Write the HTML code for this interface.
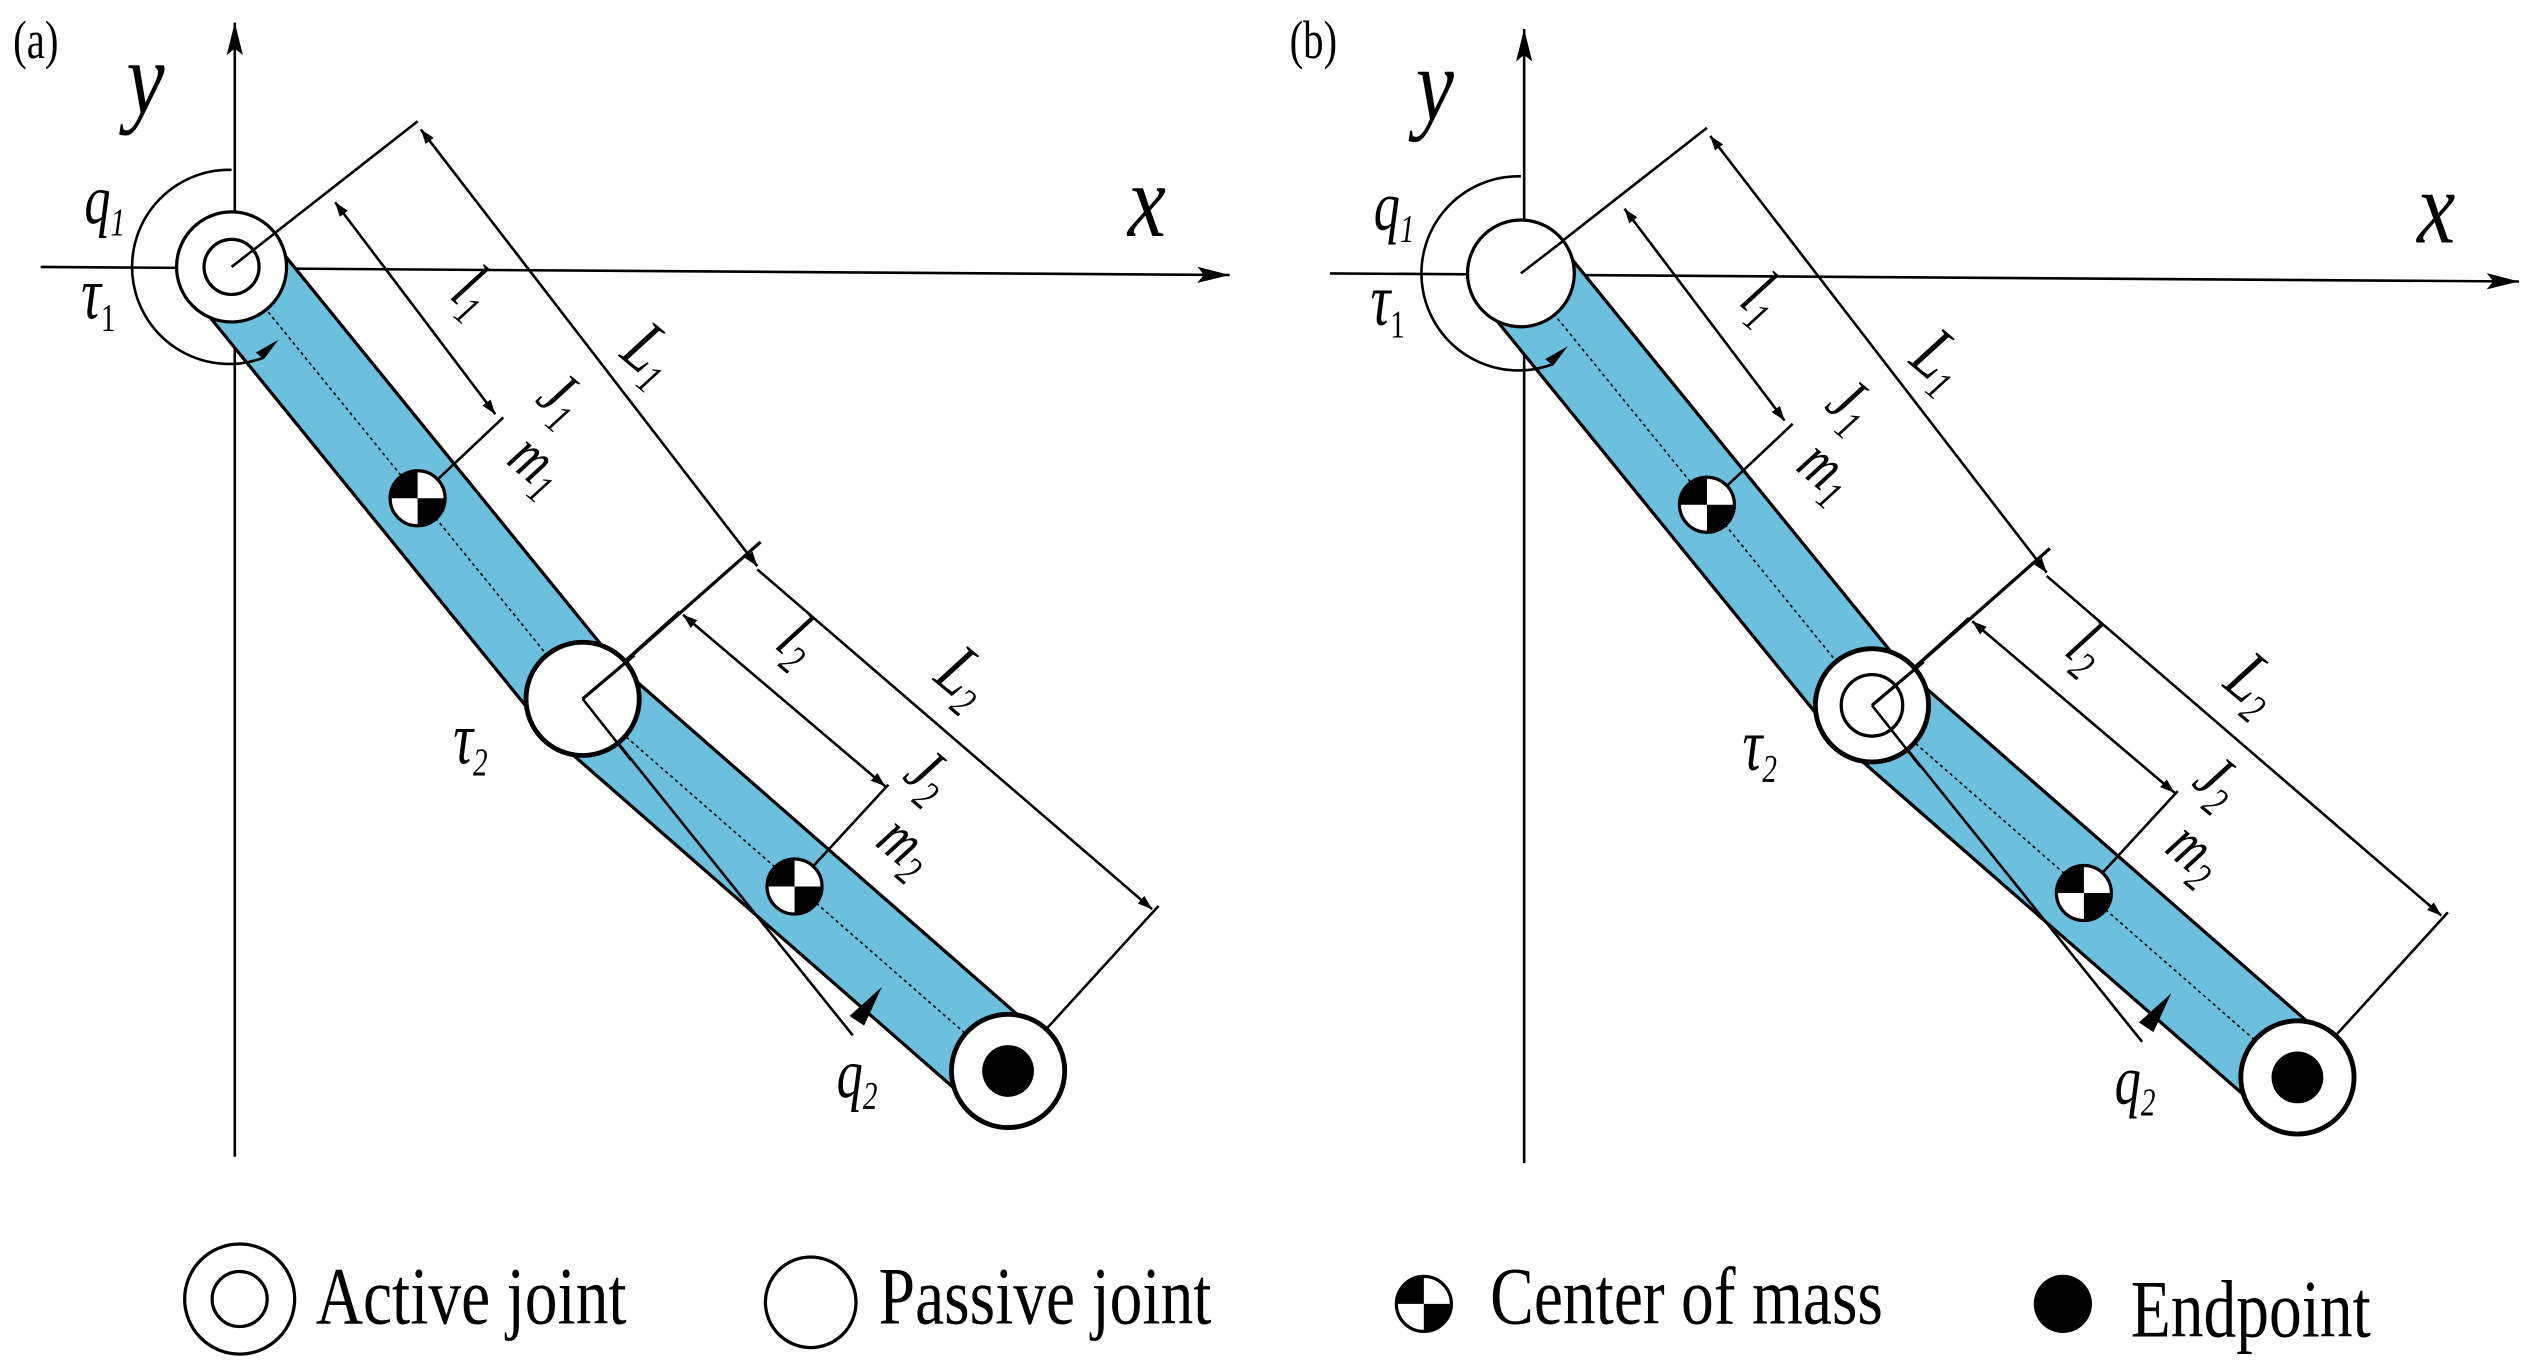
<!DOCTYPE html>
<html><head><meta charset="utf-8"><style>
html,body{margin:0;padding:0;background:#fff;}
svg{display:block;}
text{font-family:"Liberation Serif",serif;fill:#000;}
.it{font-style:italic;}
</style></head><body>
<svg width="2529" height="1367" viewBox="0 0 1563 845" xmlns="http://www.w3.org/2000/svg">
<defs>
<marker id="ar" viewBox="0 0 10 10" refX="10" refY="5" markerWidth="9" markerHeight="9" orient="auto-start-reverse" markerUnits="userSpaceOnUse"><path d="M0,1.5 L10,5 L0,8.5 z" fill="#000"/></marker>
<marker id="ax" viewBox="0 0 20 10" refX="20" refY="5" markerWidth="20" markerHeight="10" orient="auto" markerUnits="userSpaceOnUse"><path d="M0,0 L20,5 L0,10 L4,5 z" fill="#000"/></marker>
</defs>

<text transform="translate(8,36) scale(0.9,1.2)" font-size="28">(a)</text>
<text transform="translate(797,36) scale(0.9,1.2)" font-size="28">(b)</text>

<!-- PANEL A -->
<g>
<line x1="145" y1="715" x2="145" y2="14" stroke="#000" stroke-width="1.6" marker-end="url(#ax)"/>
<line x1="25" y1="165" x2="760" y2="170" stroke="#000" stroke-width="1.6" marker-end="url(#ax)"/>
<polyline points="143,165 360,432 623,662" fill="none" stroke="#000" stroke-width="62" stroke-linejoin="miter"/>
<polyline points="143,165 360,432 623,662" fill="none" stroke="#6cbfdd" stroke-width="58" stroke-linejoin="miter"/>
<polyline points="143,165 360,432 623,662" fill="none" stroke="#000" stroke-width="1" stroke-dasharray="2,2"/>
<path d="M143,105 A60,60 0 1 0 163,221" fill="none" stroke="#000" stroke-width="1.6"/>
<path d="M158,218 L172,210 L163,222 z" fill="#000"/>
<line x1="143" y1="165" x2="258" y2="75" stroke="#000" stroke-width="1.6"/>
<line x1="360" y1="432" x2="470" y2="335" stroke="#000" stroke-width="2"/>
<line x1="623" y1="662" x2="716" y2="560" stroke="#000" stroke-width="1.6"/>
<line x1="258" y1="308" x2="311" y2="258" stroke="#000" stroke-width="1.6"/>
<line x1="491" y1="548" x2="549" y2="485" stroke="#000" stroke-width="1.6"/>
<line x1="360" y1="432" x2="420" y2="378" stroke="#000" stroke-width="1.6"/>
<line x1="260" y1="80" x2="468" y2="350" stroke="#000" stroke-width="1.6" marker-start="url(#ar)" marker-end="url(#ar)"/>
<line x1="468" y1="352" x2="712" y2="562" stroke="#000" stroke-width="1.6" marker-end="url(#ar)"/>
<line x1="207" y1="125" x2="306" y2="256" stroke="#000" stroke-width="1.6" marker-start="url(#ar)" marker-end="url(#ar)"/>
<line x1="422" y1="380" x2="547" y2="486" stroke="#000" stroke-width="1.6" marker-start="url(#ar)" marker-end="url(#ar)"/>
<line x1="360" y1="432" x2="527" y2="640" stroke="#000" stroke-width="1.6"/>
<path d="M525,628 L545,610 L534,634 z" fill="#000"/>
<g transform="translate(258,308)"><circle r="17" fill="#fff" stroke="#000" stroke-width="2"/><path d="M0,0 L0,-17 A17,17 0 0 0 -17,0 z M0,0 L0,17 A17,17 0 0 0 17,0 z" fill="#000"/></g>
<g transform="translate(491,548)"><circle r="17" fill="#fff" stroke="#000" stroke-width="2"/><path d="M0,0 L0,-17 A17,17 0 0 0 -17,0 z M0,0 L0,17 A17,17 0 0 0 17,0 z" fill="#000"/></g>
<circle cx="623" cy="662" r="35" fill="#fff" stroke="#000" stroke-width="3"/>
<circle cx="623" cy="662" r="16" fill="#000"/>
</g>
<circle cx="143" cy="165" r="34" fill="#fff" stroke="#000" stroke-width="2"/>
<circle cx="143" cy="165" r="17" fill="#fff" stroke="#000" stroke-width="2"/>
<line x1="143" y1="165" x2="170" y2="144" stroke="#000" stroke-width="1.6"/>
<circle cx="360" cy="432" r="35" fill="#fff" stroke="#000" stroke-width="3"/>
<line x1="360" y1="432" x2="392" y2="405" stroke="#000" stroke-width="2"/>
<line x1="360" y1="432" x2="390" y2="470" stroke="#000" stroke-width="1.6"/>

<!-- PANEL B -->
<g transform="translate(797,4)">
<line x1="145" y1="715" x2="145" y2="14" stroke="#000" stroke-width="1.6" marker-end="url(#ax)"/>
<line x1="25" y1="165" x2="760" y2="170" stroke="#000" stroke-width="1.6" marker-end="url(#ax)"/>
<polyline points="143,165 360,432 623,662" fill="none" stroke="#000" stroke-width="62"/>
<polyline points="143,165 360,432 623,662" fill="none" stroke="#6cbfdd" stroke-width="58"/>
<polyline points="143,165 360,432 623,662" fill="none" stroke="#000" stroke-width="1" stroke-dasharray="2,2"/>
<path d="M143,105 A60,60 0 1 0 163,221" fill="none" stroke="#000" stroke-width="1.6"/>
<path d="M158,218 L172,210 L163,222 z" fill="#000"/>
<line x1="143" y1="165" x2="258" y2="75" stroke="#000" stroke-width="1.6"/>
<line x1="360" y1="432" x2="470" y2="335" stroke="#000" stroke-width="2"/>
<line x1="623" y1="662" x2="716" y2="560" stroke="#000" stroke-width="1.6"/>
<line x1="258" y1="308" x2="311" y2="258" stroke="#000" stroke-width="1.6"/>
<line x1="491" y1="548" x2="549" y2="485" stroke="#000" stroke-width="1.6"/>
<line x1="360" y1="432" x2="420" y2="378" stroke="#000" stroke-width="1.6"/>
<line x1="260" y1="80" x2="468" y2="350" stroke="#000" stroke-width="1.6" marker-start="url(#ar)" marker-end="url(#ar)"/>
<line x1="468" y1="352" x2="712" y2="562" stroke="#000" stroke-width="1.6" marker-end="url(#ar)"/>
<line x1="207" y1="125" x2="306" y2="256" stroke="#000" stroke-width="1.6" marker-start="url(#ar)" marker-end="url(#ar)"/>
<line x1="422" y1="380" x2="547" y2="486" stroke="#000" stroke-width="1.6" marker-start="url(#ar)" marker-end="url(#ar)"/>
<line x1="360" y1="432" x2="527" y2="640" stroke="#000" stroke-width="1.6"/>
<path d="M525,628 L545,610 L534,634 z" fill="#000"/>
<g transform="translate(258,308)"><circle r="17" fill="#fff" stroke="#000" stroke-width="2"/><path d="M0,0 L0,-17 A17,17 0 0 0 -17,0 z M0,0 L0,17 A17,17 0 0 0 17,0 z" fill="#000"/></g>
<g transform="translate(491,548)"><circle r="17" fill="#fff" stroke="#000" stroke-width="2"/><path d="M0,0 L0,-17 A17,17 0 0 0 -17,0 z M0,0 L0,17 A17,17 0 0 0 17,0 z" fill="#000"/></g>
<circle cx="623" cy="662" r="35" fill="#fff" stroke="#000" stroke-width="3"/>
<circle cx="623" cy="662" r="16" fill="#000"/>
<circle cx="143" cy="165" r="33" fill="#fff" stroke="#000" stroke-width="2"/>
<circle cx="360" cy="432" r="35" fill="#fff" stroke="#000" stroke-width="3"/>
<circle cx="360" cy="432" r="19" fill="#fff" stroke="#000" stroke-width="2"/>
<line x1="360" y1="432" x2="392" y2="405" stroke="#000" stroke-width="2"/>
<line x1="360" y1="432" x2="390" y2="470" stroke="#000" stroke-width="1.6"/>
<line x1="143" y1="165" x2="169" y2="145" stroke="#000" stroke-width="1.6"/>
</g>

<!-- LABELS -->
<g>
<text transform="translate(78,70) scale(0.95,1.15)" font-size="56" class="it">y</text>
<text transform="translate(697,146) scale(0.95,1.15)" font-size="56" class="it">x</text>
<text transform="translate(52,138) scale(0.9,1.2)" font-size="36" class="it">q<tspan font-size="20" dy="6">1</tspan></text>
<text transform="translate(50,197) scale(0.9,1.2)" font-size="38" class="it">τ<tspan font-size="20" dy="6" font-style="normal">1</tspan></text>
<text transform="translate(280,472) scale(0.9,1.2)" font-size="38" class="it">τ<tspan font-size="20" dy="6">2</tspan></text>
<text transform="translate(517,678) scale(0.9,1.2)" font-size="36" class="it">q<tspan font-size="20" dy="6">2</tspan></text>
<text transform="translate(277,184) rotate(40) scale(0.9,1.2)" font-size="36" class="it">l<tspan font-size="22" dy="6">1</tspan></text>
<text transform="translate(382,220) rotate(40) scale(0.9,1.2)" font-size="38" class="it">L<tspan font-size="22" dy="6">1</tspan></text>
<text transform="translate(330,248) rotate(40) scale(0.9,1.2)" font-size="34" class="it">J<tspan font-size="22" dy="6">1</tspan></text>
<text transform="translate(312,286) rotate(40) scale(0.9,1.2)" font-size="34" class="it">m<tspan font-size="22" dy="6">1</tspan></text>
<text transform="translate(478,400) rotate(40) scale(0.9,1.2)" font-size="36" class="it">l<tspan font-size="22" dy="6">2</tspan></text>
<text transform="translate(576,420) rotate(40) scale(0.9,1.2)" font-size="38" class="it">L<tspan font-size="22" dy="6">2</tspan></text>
<text transform="translate(557,481) rotate(40) scale(0.9,1.2)" font-size="34" class="it">J<tspan font-size="22" dy="6">2</tspan></text>
<text transform="translate(540,522) rotate(40) scale(0.9,1.2)" font-size="34" class="it">m<tspan font-size="22" dy="6">2</tspan></text>
</g>
<g transform="translate(797,4)">
<text transform="translate(78,70) scale(0.95,1.15)" font-size="56" class="it">y</text>
<text transform="translate(697,146) scale(0.95,1.15)" font-size="56" class="it">x</text>
<text transform="translate(52,138) scale(0.9,1.2)" font-size="36" class="it">q<tspan font-size="20" dy="6">1</tspan></text>
<text transform="translate(50,197) scale(0.9,1.2)" font-size="38" class="it">τ<tspan font-size="20" dy="6" font-style="normal">1</tspan></text>
<text transform="translate(280,472) scale(0.9,1.2)" font-size="38" class="it">τ<tspan font-size="20" dy="6">2</tspan></text>
<text transform="translate(510,678) scale(0.9,1.2)" font-size="36" class="it">q<tspan font-size="20" dy="6">2</tspan></text>
<text transform="translate(277,184) rotate(40) scale(0.9,1.2)" font-size="36" class="it">l<tspan font-size="22" dy="6">1</tspan></text>
<text transform="translate(382,220) rotate(40) scale(0.9,1.2)" font-size="38" class="it">L<tspan font-size="22" dy="6">1</tspan></text>
<text transform="translate(330,248) rotate(40) scale(0.9,1.2)" font-size="34" class="it">J<tspan font-size="22" dy="6">1</tspan></text>
<text transform="translate(312,286) rotate(40) scale(0.9,1.2)" font-size="34" class="it">m<tspan font-size="22" dy="6">1</tspan></text>
<text transform="translate(478,400) rotate(40) scale(0.9,1.2)" font-size="36" class="it">l<tspan font-size="22" dy="6">2</tspan></text>
<text transform="translate(576,420) rotate(40) scale(0.9,1.2)" font-size="38" class="it">L<tspan font-size="22" dy="6">2</tspan></text>
<text transform="translate(557,481) rotate(40) scale(0.9,1.2)" font-size="34" class="it">J<tspan font-size="22" dy="6">2</tspan></text>
<text transform="translate(540,522) rotate(40) scale(0.9,1.2)" font-size="34" class="it">m<tspan font-size="22" dy="6">2</tspan></text>
</g>

<!-- LEGEND -->
<circle cx="148" cy="803" r="34" fill="#fff" stroke="#000" stroke-width="2"/>
<circle cx="148" cy="803" r="17" fill="#fff" stroke="#000" stroke-width="2"/>
<text transform="translate(195,818) scale(0.92,1.15)" font-size="44">Active joint</text>
<circle cx="501" cy="805" r="28" fill="#fff" stroke="#000" stroke-width="2"/>
<text transform="translate(543,818) scale(0.92,1.15)" font-size="44">Passive joint</text>
<g transform="translate(880,806)"><circle r="17" fill="#fff" stroke="#000" stroke-width="2"/><path d="M0,0 L0,-17 A17,17 0 0 0 -17,0 z M0,0 L0,17 A17,17 0 0 0 17,0 z" fill="#000"/></g>
<text transform="translate(921,818) scale(0.92,1.15)" font-size="44">Center of mass</text>
<circle cx="1275" cy="806" r="18" fill="#000"/>
<text transform="translate(1317,826) scale(0.92,1.15)" font-size="44">Endpoint</text>
</svg>
</body></html>
